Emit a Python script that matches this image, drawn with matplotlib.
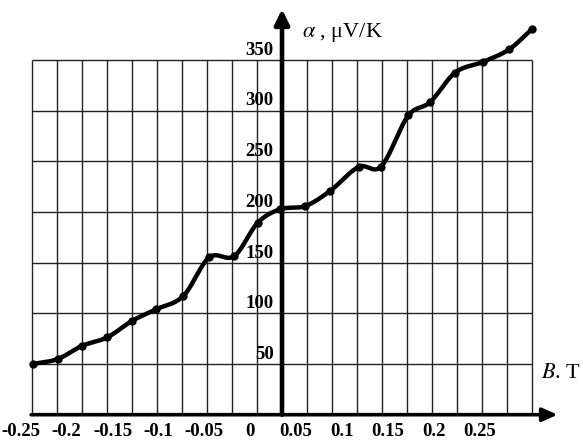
import numpy as np
import matplotlib.pyplot as plt

plt.rcParams['font.family'] = ['Liberation Serif', 'DejaVu Serif']
plt.rcParams['mathtext.fontset'] = 'stix'

# Seebeck coefficient vs magnetic field
B = [-0.2371, -0.2098, -0.1836, -0.1557, -0.1291, -0.1026, -0.0728, -0.0445,
     -0.0172, 0.0083, 0.0326, 0.0602, 0.0871, 0.1188, 0.1427, 0.1725,
     0.1962, 0.2234, 0.2543, 0.2827, 0.3074]
alpha = [50.0, 54.9, 67.8, 76.3, 92.4, 103.9, 117.1, 155.2, 156.5, 189.3,
         202.6, 205.8, 220.6, 244.6, 244.6, 295.1, 308.2, 337.3, 348.1,
         360.4, 380.4]

x_ticks = [-0.25, -0.2, -0.15, -0.1, -0.05, 0, 0.05, 0.1, 0.15, 0.2, 0.25]
x_tick_labels = ['-0.25', '-0.2', '-0.15', '-0.1', '-0.05', '0', '0.05',
                 '0.1', '0.15', '0.2', '0.25']
y_ticks = [50, 100, 150, 200, 250, 300, 350]

# grid drawn by hand (the original grid does not follow the tick labels)
grid_x0 = -0.2378
grid_dx = 0.027263
n_grid = 21
y_axis_x = 0.0348


def smooth(x, y, n=30):
    # cubic Hermite through the points, finite-difference tangents
    x = np.asarray(x, float)
    y = np.asarray(y, float)
    m = np.zeros_like(y)
    m[1:-1] = (y[2:] - y[:-2]) / (x[2:] - x[:-2])
    m[0] = (y[1] - y[0]) / (x[1] - x[0])
    m[-1] = (y[-1] - y[-2]) / (x[-1] - x[-2])
    xs, ys = [], []
    for i in range(len(x) - 1):
        h = x[i + 1] - x[i]
        t = np.linspace(0, 1, n, endpoint=False)
        h00 = 2 * t**3 - 3 * t**2 + 1
        h10 = t**3 - 2 * t**2 + t
        h01 = -2 * t**3 + 3 * t**2
        h11 = t**3 - t**2
        xs.append(x[i] + t * h)
        ys.append(h00 * y[i] + h10 * h * m[i] + h01 * y[i + 1] + h11 * h * m[i + 1])
    xs.append([x[-1]])
    ys.append([y[-1]])
    return np.concatenate(xs), np.concatenate(ys)


fig = plt.figure(figsize=(5.83, 4.40), dpi=100)
ax = fig.add_axes([0, 0, 1, 1])
ax.set_xlim(-0.2727, 0.3630)
ax.set_ylim(-24.95, 409.0)
ax.axis('off')

gx = [grid_x0 + k * grid_dx for k in range(n_grid)]
ax.vlines(gx, 0, 350, color='#222222', lw=1.0, zorder=1)
ax.hlines(y_ticks, gx[0], gx[-1], color='#222222', lw=1.0, zorder=1)

# axes with arrows
ax.annotate('', xy=(0.3353, 0), xytext=(gx[0] - 0.001, 0),
            arrowprops=dict(arrowstyle='-|>,head_length=0.45,head_width=0.2',
                            lw=2.6, color='black', shrinkA=0, shrinkB=0,
                            mutation_scale=20), zorder=3)
ax.annotate('', xy=(y_axis_x, 400.0), xytext=(y_axis_x, 0),
            arrowprops=dict(arrowstyle='-|>,head_length=0.45,head_width=0.22',
                            lw=3.3, color='black', shrinkA=0, shrinkB=0,
                            mutation_scale=20), zorder=3)

xs, ys = smooth(B, alpha)
ax.plot(xs, ys, color='black', lw=3.2, solid_capstyle='round', zorder=4)
ax.plot(B, alpha, 'o', color='black', ms=5, zorder=5)

for v in y_ticks:
    ax.text(0.0255, v + 9.4, str(v), ha='right', va='center',
            fontsize=13.5, fontweight='bold')
for b, lab in zip(x_ticks, x_tick_labels):
    ax.text(b, -16.5, lab, ha='center', va='center',
            fontsize=13.5, fontweight='bold')

ax.text(0.0569, 377.1, r'$\alpha$ , μV/K', ha='left', va='center', fontsize=16)
ax.text(0.3172, 41.0, r'$B$. T', ha='left', va='center', fontsize=16)

fig.savefig('out.png', dpi=100)
